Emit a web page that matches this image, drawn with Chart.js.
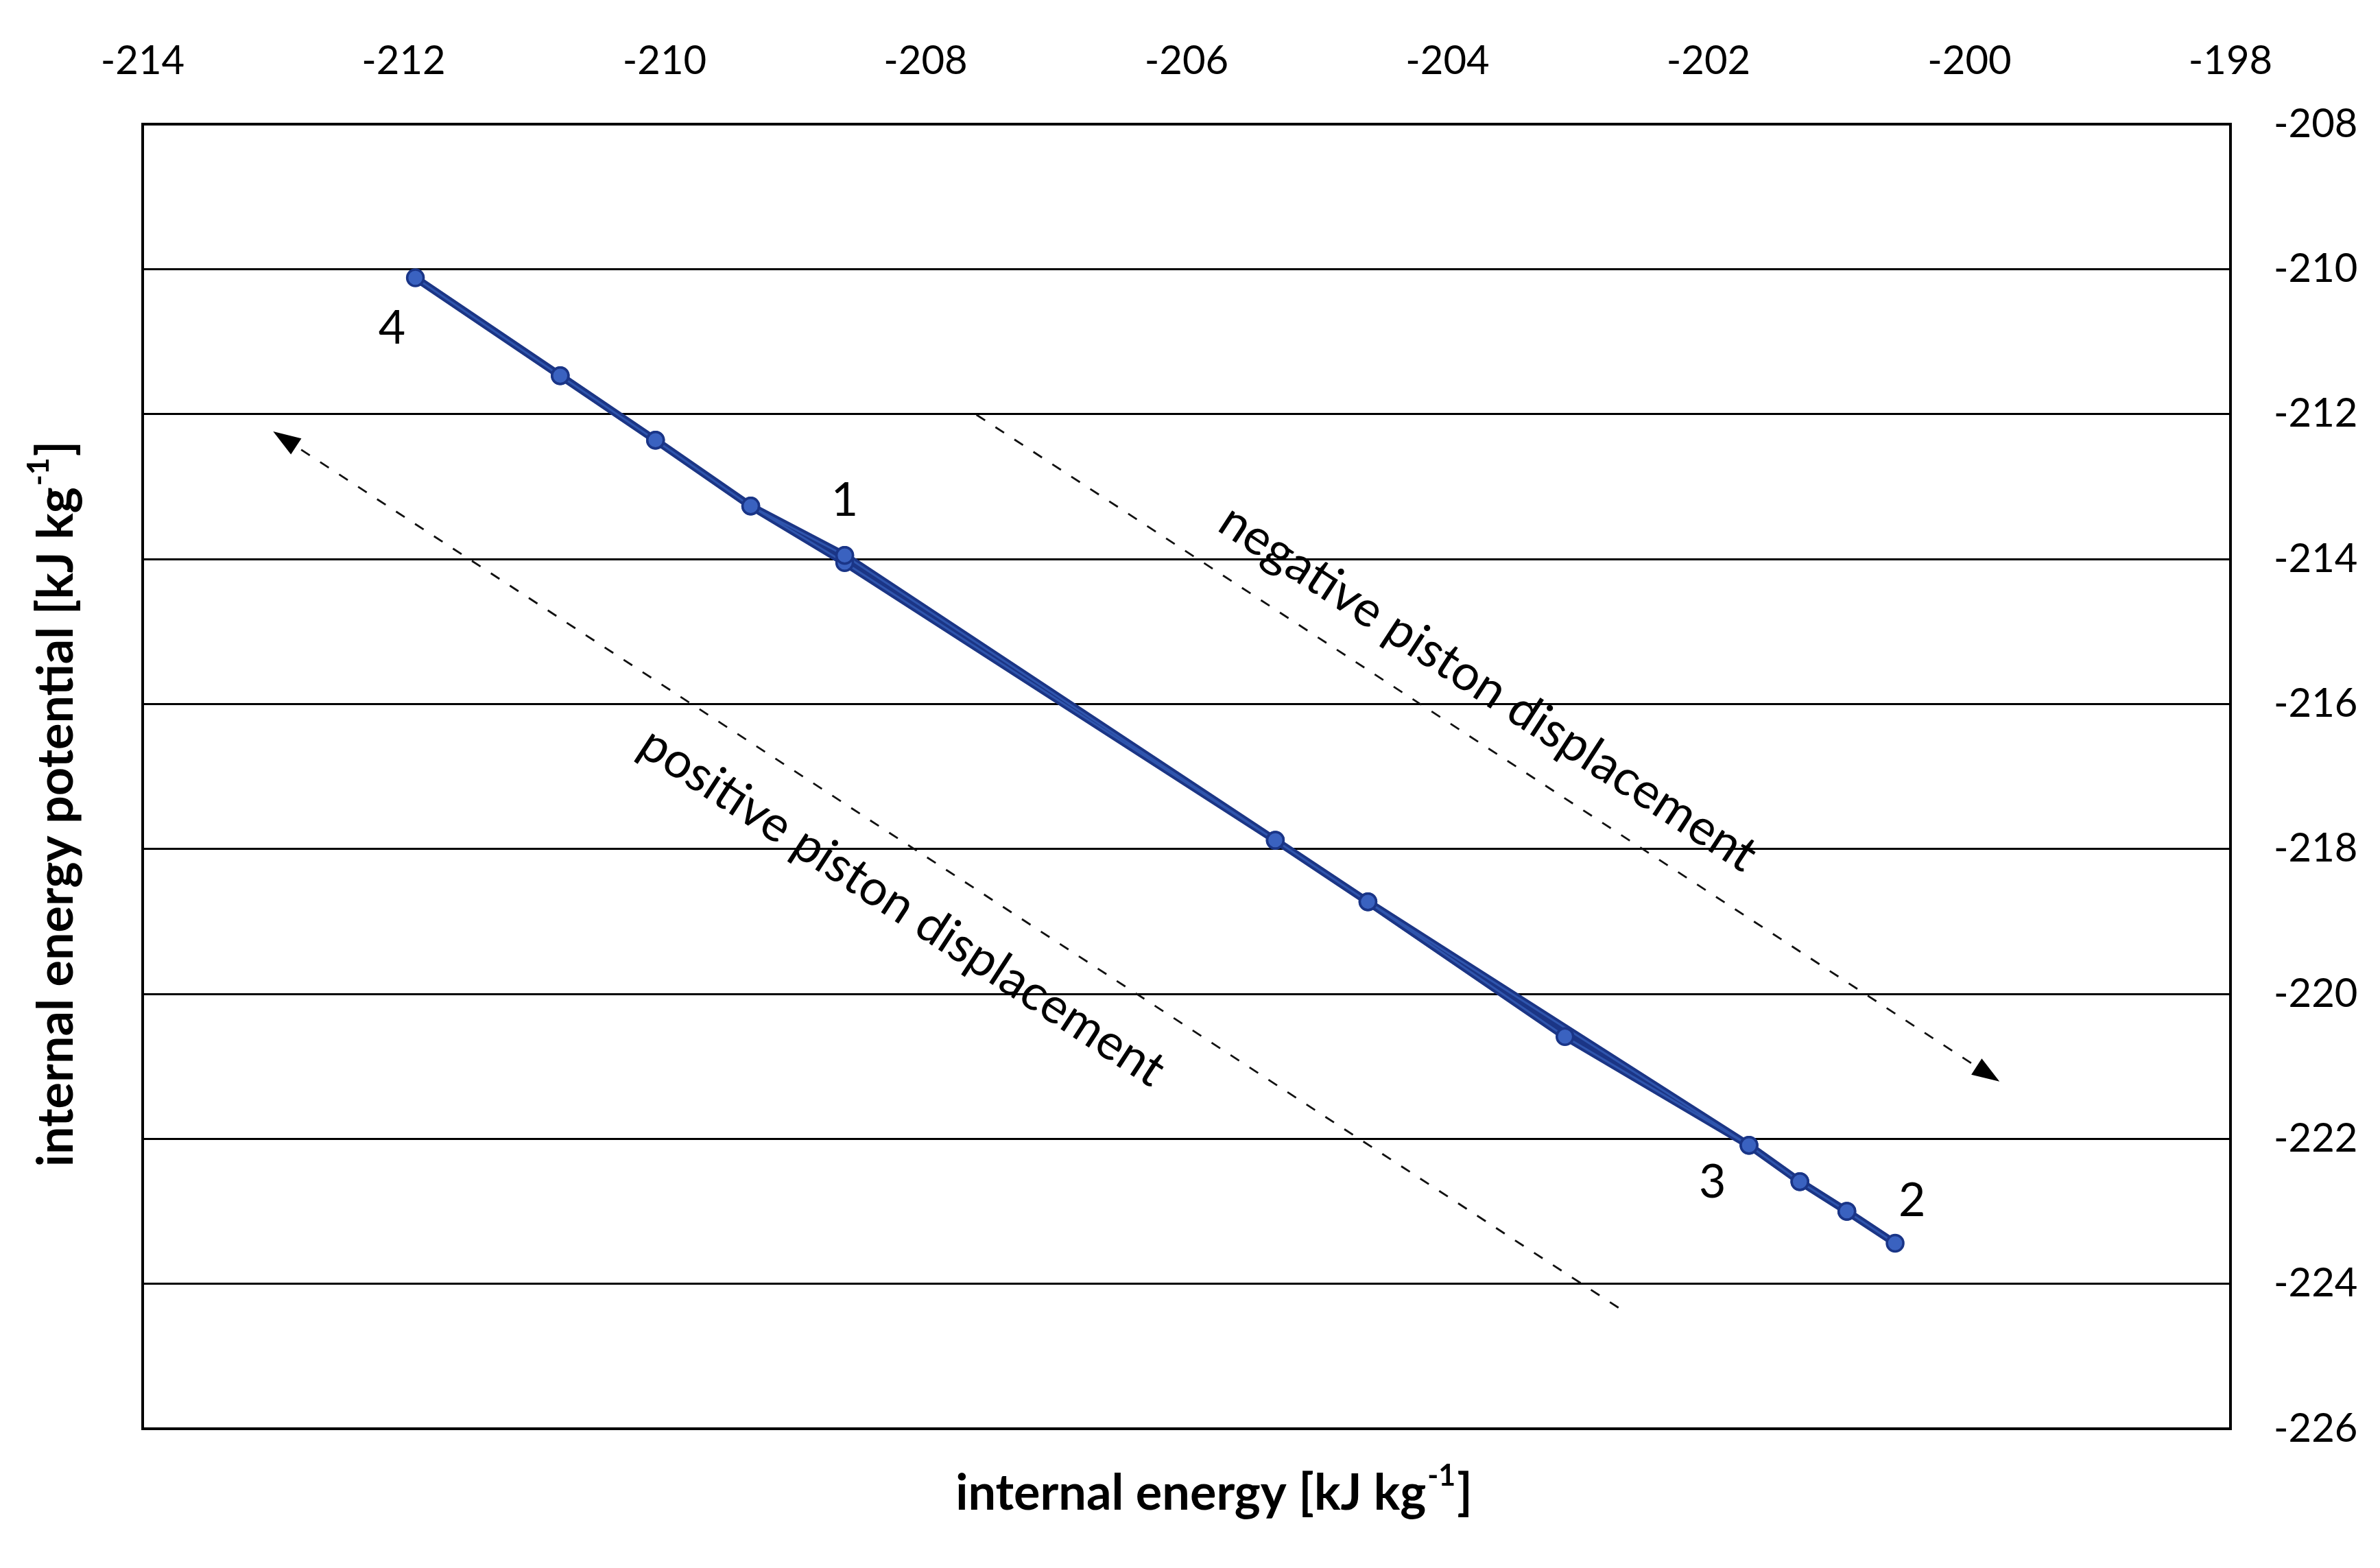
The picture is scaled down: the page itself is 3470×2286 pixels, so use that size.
<!DOCTYPE html>
<html>
<head>
<meta charset="utf-8">
<script src="https://cdn.jsdelivr.net/npm/chart.js@4.4.1/dist/chart.umd.min.js"></script>
<style>
  html, body { margin: 0; padding: 0; background: #ffffff; }
  #wrap { width: 3470px; height: 2286px; }
</style>
</head>
<body>
<div id="wrap"><canvas id="c" width="3470" height="2286" style="width:3470px;height:2286px"></canvas></div>
<script>
// ---- data ----
// cycle path: 1 -> 2 (sampled), 2 -> 3 -> back toward 1 (sampled), 1 -> 4, 4 -> 1
const internalEnergy = [-208.62, -205.32, -204.61, -203.10, -201.69, -201.30, -200.94, -200.57, -200.94, -201.30, -201.69, -204.61, -205.32, -208.62, -209.34, -210.07, -210.80, -211.91, -210.80, -210.07, -209.34, -208.62];
const internalEnergyPotential = [-213.95, -217.88, -218.73, -220.59, -222.09, -222.59, -223.00, -223.44, -223.00, -222.59, -222.09, -218.73, -217.88, -214.05, -213.27, -212.36, -211.47, -210.12, -211.47, -212.36, -213.27, -213.95];

// state labels
const stateNames = ['1', '2', '3', '4'];
const stateLabelX = [-208.62, -200.44, -201.97, -212.09];
const stateLabelY = [-213.20, -222.86, -222.60, -210.82];

// axis ticks
const xTicks = [-214, -212, -210, -208, -206, -204, -202, -200, -198];
const yTicks = [-226, -224, -222, -220, -218, -216, -214, -212, -210, -208];

// annotation arrows (tail -> head) in data units
const positiveArrowX = [-202.69, -213.00];
const positiveArrowY = [-224.33, -212.24];
const negativeArrowX = [-207.61, -199.77];
const negativeArrowY = [-212.01, -221.21];
const arrowTexts = ['positive piston displacement', 'negative piston displacement'];
const arrowTextX = [-208.18, -203.69];
const arrowTextY = [-218.80, -215.78];

const xTitleParts = ['internal energy [kJ kg', '-1', ']'];
const yTitleParts = ['internal energy potential [kJ kg', '-1', ']'];

// ---- rendering ----
const FONT = "Lato, 'Liberation Sans', sans-serif";
const points = internalEnergy.map((x, i) => ({ x: x, y: internalEnergyPotential[i] }));

function drawSup(ctx, parts, size) {
  const baseFont = 'bold ' + size + 'px ' + FONT;
  const supFont = 'bold ' + Math.round(size * 0.6) + 'px ' + FONT;
  ctx.font = baseFont; const w0 = ctx.measureText(parts[0]).width; const w2 = ctx.measureText(parts[2]).width;
  ctx.font = supFont; const w1 = ctx.measureText(parts[1]).width;
  const total = w0 + w1 + w2 + 4;
  let x = -total / 2;
  ctx.textAlign = 'left'; ctx.textBaseline = 'middle';
  ctx.font = baseFont; ctx.fillText(parts[0], x, 0); x += w0 + 2;
  ctx.font = supFont; ctx.fillText(parts[1], x, -size * 0.36); x += w1 + 2;
  ctx.font = baseFont; ctx.fillText(parts[2], x, 0);
}

function drawArrow(ctx, xs, ys, sx, sy) {
  const x0 = sx.getPixelForValue(xs[0]), y0 = sy.getPixelForValue(ys[0]);
  const x1 = sx.getPixelForValue(xs[1]), y1 = sy.getPixelForValue(ys[1]);
  const ang = Math.atan2(y1 - y0, x1 - x0);
  const headLen = 40, headHalf = 14;
  const bx = x1 - Math.cos(ang) * headLen, by = y1 - Math.sin(ang) * headLen;
  ctx.save();
  ctx.strokeStyle = '#111'; ctx.lineWidth = 2.8; ctx.setLineDash([15, 18]);
  ctx.beginPath(); ctx.moveTo(x0, y0); ctx.lineTo(bx, by); ctx.stroke();
  ctx.setLineDash([]);
  ctx.fillStyle = '#000';
  ctx.beginPath();
  ctx.moveTo(x1, y1);
  ctx.lineTo(bx + Math.sin(ang) * headHalf, by - Math.cos(ang) * headHalf);
  ctx.lineTo(bx - Math.sin(ang) * headHalf, by + Math.cos(ang) * headHalf);
  ctx.closePath(); ctx.fill();
  ctx.restore();
  return ang;
}

const annotations = {
  id: 'annotations',
  afterDatasetsDraw(chart) {
    const ctx = chart.ctx, sx = chart.scales.x, sy = chart.scales.y, ca = chart.chartArea;
    const a1 = drawArrow(ctx, positiveArrowX, positiveArrowY, sx, sy);
    const a2 = drawArrow(ctx, negativeArrowX, negativeArrowY, sx, sy);
    const angs = [a1 + Math.PI, a2];
    ctx.save();
    ctx.fillStyle = '#000';
    for (let i = 0; i < arrowTexts.length; i++) {
      ctx.save();
      ctx.translate(sx.getPixelForValue(arrowTextX[i]), sy.getPixelForValue(arrowTextY[i]));
      ctx.rotate(angs[i]);
      ctx.font = '72px ' + FONT; ctx.textAlign = 'center'; ctx.textBaseline = 'middle';
      ctx.fillText(arrowTexts[i], 0, 0);
      ctx.restore();
    }
    ctx.font = '68px ' + FONT; ctx.textAlign = 'center'; ctx.textBaseline = 'middle';
    for (let i = 0; i < stateNames.length; i++) {
      ctx.fillText(stateNames[i], sx.getPixelForValue(stateLabelX[i]), sy.getPixelForValue(stateLabelY[i]));
    }
    // axis titles
    ctx.save();
    ctx.translate((ca.left + ca.right) / 2 + 40, ca.bottom + 95);
    drawSup(ctx, xTitleParts, 72);
    ctx.restore();
    ctx.save();
    ctx.translate(ca.left - 125, (ca.top + ca.bottom) / 2 + 40);
    ctx.rotate(-Math.PI / 2);
    drawSup(ctx, yTitleParts, 72);
    ctx.restore();
    ctx.restore();
  }
};

const borderCfg = { display: true, color: '#000', width: 4 };

new Chart(document.getElementById('c'), {
  type: 'scatter',
  data: {
    datasets: [
      {
        label: 'cycle (core)',
        data: points,
        showLine: true,
        borderColor: '#2f55ad',
        borderWidth: 3,
        pointRadius: 12,
        pointBackgroundColor: '#3a62c0',
        pointBorderColor: '#1a3587',
        pointBorderWidth: 3.5,
        order: 1
      },
      {
        label: 'cycle (edge)',
        data: points,
        showLine: true,
        borderColor: '#1b3585',
        borderWidth: 11,
        pointRadius: 0,
        order: 2
      }
    ]
  },
  options: {
    responsive: false,
    animation: false,
    devicePixelRatio: 1,
    layout: { padding: 0, autoPadding: false },
    plugins: { legend: { display: false }, tooltip: { enabled: false } },
    scales: {
      x: {
        type: 'linear', position: 'top', min: xTicks[0], max: xTicks[xTicks.length - 1],
        afterBuildTicks: (s) => { s.ticks = xTicks.map(v => ({ value: v })); },
        afterFit: (s) => { s.height = 181; },
        grid: { display: false, drawTicks: false },
        border: borderCfg,
        ticks: { color: '#000', padding: 57, font: { family: FONT, size: 58 } }
      },
      x2: {
        type: 'linear', position: 'bottom', min: xTicks[0], max: xTicks[xTicks.length - 1],
        afterFit: (s) => { s.height = 203; },
        grid: { display: false, drawTicks: false },
        border: borderCfg,
        ticks: { display: false }
      },
      y: {
        type: 'linear', position: 'right', min: yTicks[0], max: yTicks[yTicks.length - 1],
        afterBuildTicks: (s) => { s.ticks = yTicks.map(v => ({ value: v })); },
        afterFit: (s) => { s.width = 218; },
        grid: { display: true, drawTicks: false, color: '#000', lineWidth: 3 },
        border: borderCfg,
        ticks: { color: '#000', padding: 63, font: { family: FONT, size: 58 } }
      },
      y2: {
        type: 'linear', position: 'left', min: yTicks[0], max: yTicks[yTicks.length - 1],
        afterFit: (s) => { s.width = 208; },
        grid: { display: false, drawTicks: false },
        border: borderCfg,
        ticks: { display: false }
      }
    }
  },
  plugins: [annotations]
});
</script>
</body>
</html>
